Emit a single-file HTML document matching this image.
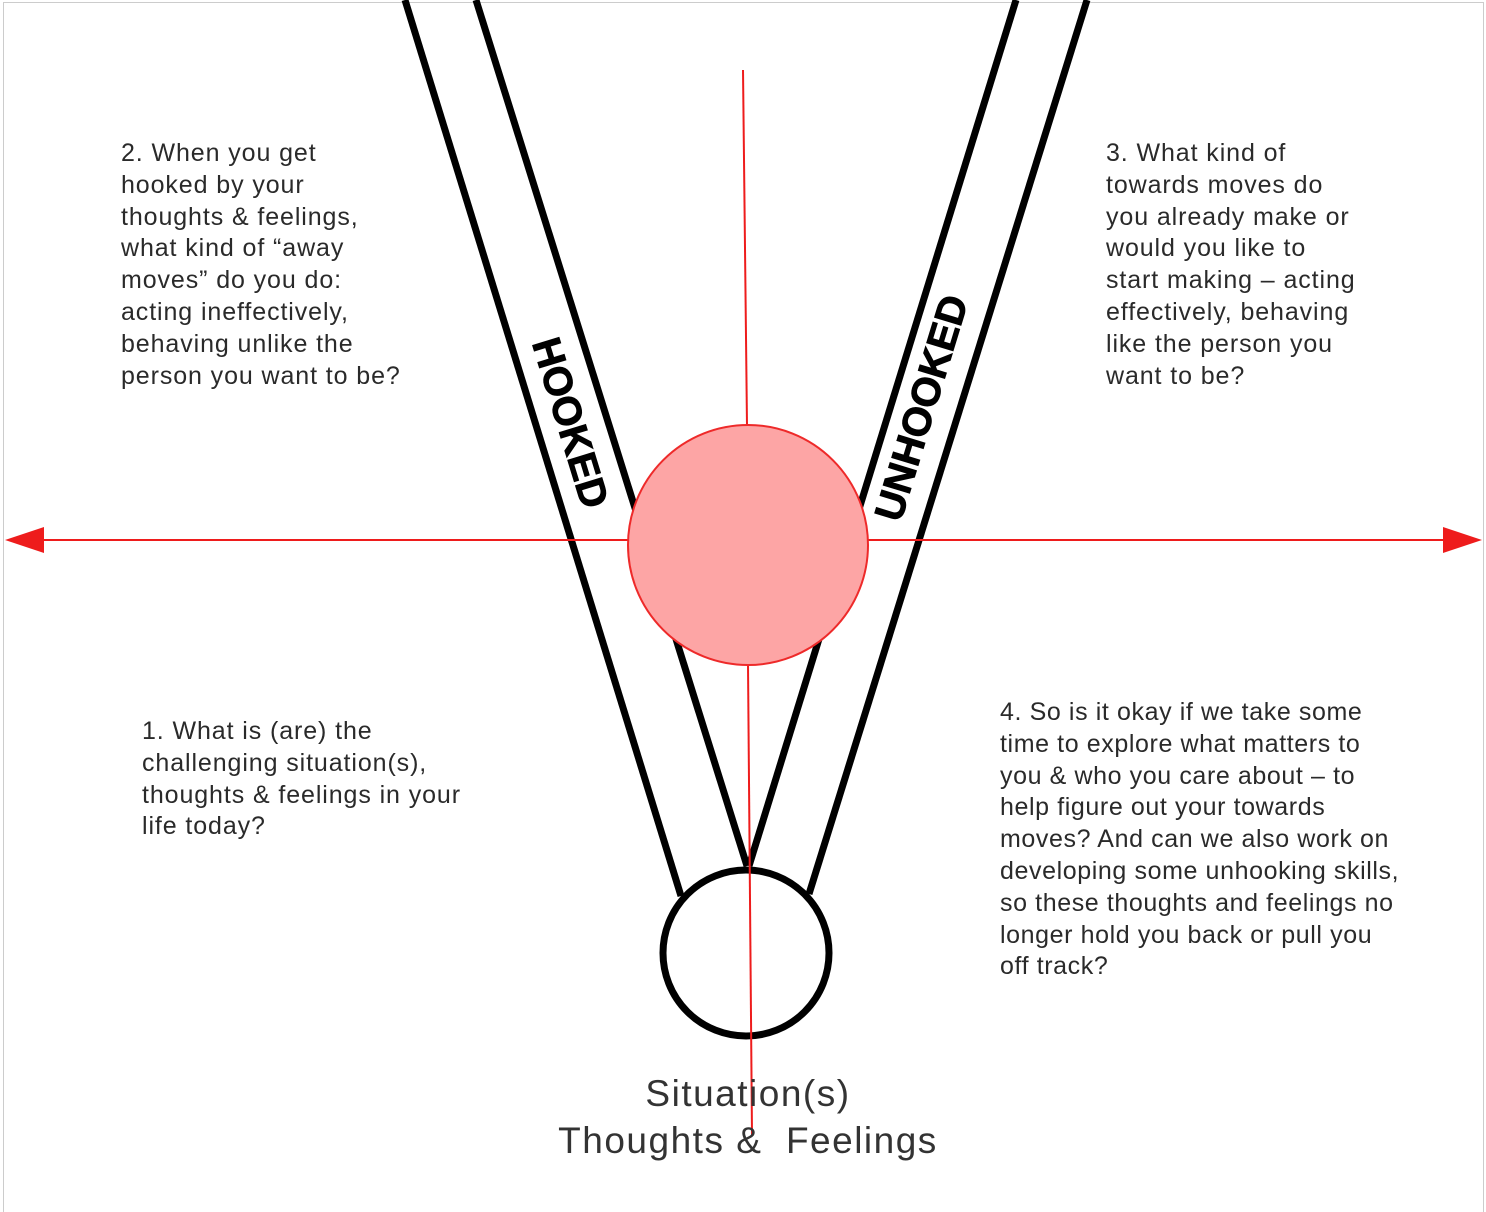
<!DOCTYPE html>
<html><head><meta charset="utf-8"><style>
html,body{margin:0;padding:0;background:#fff;}
body{width:1486px;height:1212px;position:relative;overflow:hidden;}
.t{position:absolute;font-family:"Liberation Sans",sans-serif;font-size:25px;line-height:31.8px;color:#2a2a2a;white-space:pre;letter-spacing:0.9px;}
</style></head><body>
<svg width="1486" height="1212" style="position:absolute;left:0;top:0">
<rect x="3.5" y="2.5" width="1480" height="1220" fill="none" stroke="#ccc" stroke-width="1"/>
<g stroke="#000" stroke-width="7" fill="none" stroke-linecap="butt">
<line x1="405" y1="0" x2="681" y2="896"/>
<line x1="476" y1="0" x2="747" y2="866"/>
<line x1="1016" y1="0" x2="749" y2="866"/>
<line x1="1087" y1="0" x2="809" y2="894"/>
<circle cx="746" cy="953" r="83"/>
</g>
<text x="0" y="0" transform="translate(570,423) rotate(73)" text-anchor="middle" dominant-baseline="central" font-family="Liberation Sans,sans-serif" font-weight="bold" font-size="40" stroke="#000" stroke-width="1">HOOKED</text>
<text x="0" y="0" transform="translate(922,408) rotate(-73)" text-anchor="middle" dominant-baseline="central" font-family="Liberation Sans,sans-serif" font-weight="bold" font-size="40" stroke="#000" stroke-width="1">UNHOOKED</text>
<g stroke="#ee1c1c" stroke-width="2">
<line x1="743" y1="70" x2="747" y2="426"/>
<line x1="748" y1="664" x2="752" y2="1135"/>
<line x1="40" y1="540" x2="1446" y2="540"/>
</g>
<polygon points="5,540 44,527 44,553" fill="#ee1c1c"/>
<polygon points="1482,540 1443,527 1443,553" fill="#ee1c1c"/>
<circle cx="748" cy="545" r="120" fill="#fda5a5" stroke="#ee2a2a" stroke-width="2"/>
</svg>
<div class="t" style="left:121px;top:138px">2. When you get
hooked by your
thoughts &amp; feelings,
what kind of “away
moves” do you do:
acting ineffectively,
behaving unlike the
person you want to be?</div>
<div class="t" style="left:1106px;top:138px">3. What kind of
towards moves do
you already make or
would you like to
start making – acting
effectively, behaving
like the person you
want to be?</div>
<div class="t" style="left:142px;top:716px">1. What is (are) the
challenging situation(s),
thoughts &amp; feelings in your
life today?</div>
<div class="t" style="left:1000px;top:697px;letter-spacing:0.6px">4. So is it okay if we take some
time to explore what matters to
you &amp; who you care about – to
help figure out your towards
moves? And can we also work on
developing some unhooking skills,
so these thoughts and feelings no
longer hold you back or pull you
off track?</div>
<div class="t" style="left:0;width:1496px;text-align:center;top:1070px;font-size:37px;line-height:47px;color:#333;letter-spacing:1.5px">Situation(s)
Thoughts &amp;  Feelings</div>
</body></html>
